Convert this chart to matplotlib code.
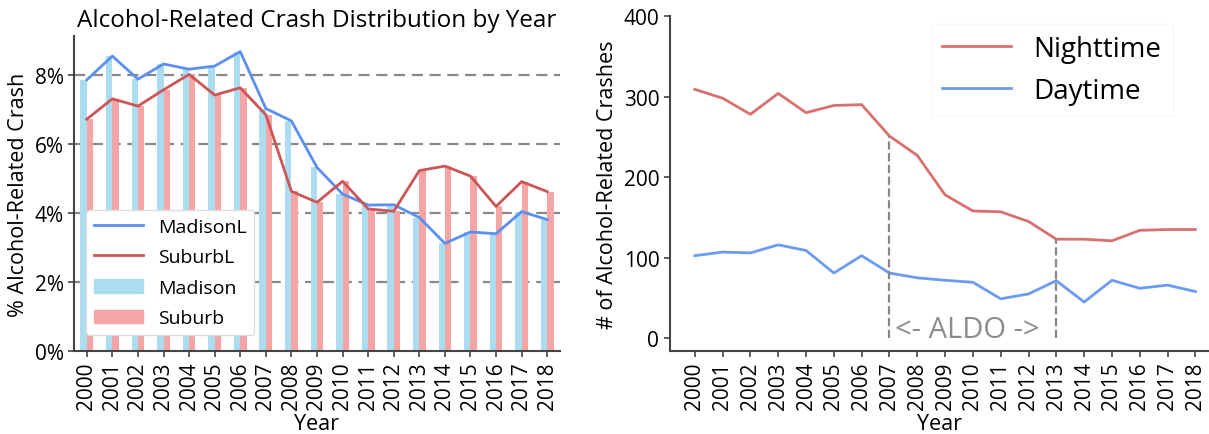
import numpy as np
import matplotlib
matplotlib.use("Agg")
import matplotlib.pyplot as plt
from matplotlib.patches import Patch
from matplotlib.lines import Line2D
from matplotlib.ticker import FuncFormatter

plt.rcParams['font.family'] = ['Open Sans', 'DejaVu Sans']

years = [str(y) for y in range(2000, 2019)]
madison = [7.86, 8.55, 7.88, 8.32, 8.17, 8.26, 8.68, 7.03, 6.67, 5.32,
           4.55, 4.23, 4.24, 3.87, 3.12, 3.45, 3.40, 4.04, 3.81]
suburb = [6.72, 7.31, 7.10, 7.57, 8.02, 7.42, 7.63, 6.85, 4.63, 4.31,
          4.92, 4.12, 4.05, 5.23, 5.36, 5.07, 4.19, 4.91, 4.62]
night = [309, 298, 278, 304, 280, 289, 290, 251, 227, 178,
         158, 157, 145, 123, 123, 121, 134, 135, 135]
day = [102.5, 107, 106, 116, 109, 81, 102.5, 81, 75, 72,
       69.5, 49, 55, 71.5, 45, 72, 62, 66, 58]
aldo_start, aldo_end = 7, 13

fig = plt.figure(figsize=(12.09, 4.35), dpi=100)
ax1 = fig.add_axes([0.0612, 0.1908, 0.402, 0.724])
ax2 = fig.add_axes([0.554, 0.1908, 0.446, 0.770])

spine_col = '#444444'
x = np.arange(len(years))

# left: percentage bars + lines
bar_blue = '#abdcf0'
bar_red = '#f4a6a6'
line_blue = '#5b8ff0'
line_red = '#cd5555'
ax1.set_axisbelow(True)
ax1.bar(x - 0.125, madison, width=0.25, color=bar_blue)
ax1.bar(x + 0.125, suburb, width=0.25, color=bar_red)
ax1.plot(x, madison, color=line_blue, lw=2)
ax1.plot(x, suburb, color=line_red, lw=2)
ax1.set_xlim(-0.5, 18.5)
ax1.set_ylim(0, 9.13)
ax1.set_yticks([0, 2, 4, 6, 8])
ax1.yaxis.set_major_formatter(FuncFormatter(lambda v, p: '%d%%' % v))
for g in [2, 4, 6, 8]:
    ax1.axhline(g, color='#888888', ls='--', lw=1.6, dashes=(5, 3), zorder=0.5)
ax1.set_xticks(x)
ax1.set_xticklabels(years, rotation=90)
ax1.set_xlabel('Year', fontsize=15.5, labelpad=3)
ax1.set_ylabel('% Alcohol-Related Crash', fontsize=15.5)
ax1.set_title('Alcohol-Related Crash Distribution by Year', fontsize=17.5, pad=7)
handles = [Line2D([], [], color=line_blue, lw=2),
           Line2D([], [], color=line_red, lw=2),
           Patch(color=bar_blue), Patch(color=bar_red)]
ax1.legend(handles, ['MadisonL', 'SuburbL', 'Madison', 'Suburb'],
           loc='lower left', bbox_to_anchor=(0.025, 0.05), borderaxespad=0,
           fontsize=14, labelspacing=0.65, handlelength=2.5,
           framealpha=1, edgecolor='#dddddd')

# right: counts by time of day
red2 = '#d97070'
blue2 = '#6b9cf2'
ax2.plot(x, night, color=red2, lw=2, label='Nighttime')
ax2.plot(x, day, color=blue2, lw=2, label='Daytime')
ax2.plot([aldo_start, aldo_start], [0, night[aldo_start]], color='#888888', ls='--', lw=1.6)
ax2.plot([aldo_end, aldo_end], [0, night[aldo_end]], color='#888888', ls='--', lw=1.6)
ax2.text(aldo_start + 0.2, 2, '<- ALDO ->', color='#8c8c8c', fontsize=21,
         ha='left', va='baseline')
ax2.set_xlim(-0.9, 18.49)
ax2.set_ylim(-15.8, 400)
ax2.set_yticks([0, 100, 200, 300, 400])
ax2.set_xticks(x)
ax2.set_xticklabels(years, rotation=90)
ax2.set_xlabel('Year', fontsize=15.5, labelpad=3)
ax2.set_ylabel('# of Alcohol-Related Crashes', fontsize=15.5)
ax2.legend(loc='upper left', bbox_to_anchor=(0.484, 0.976), borderaxespad=0,
           fontsize=20, handlelength=2.5, framealpha=1, edgecolor='#f8f8f8',
           fancybox=False)

for ax in (ax1, ax2):
    ax.spines['top'].set_visible(False)
    ax.spines['right'].set_visible(False)
    for s in ('left', 'bottom'):
        ax.spines[s].set_color(spine_col)
        ax.spines[s].set_linewidth(1.5)
    ax.tick_params(labelsize=15, color=spine_col, length=4, width=1.2)

fig.savefig('out.png', dpi=100)
